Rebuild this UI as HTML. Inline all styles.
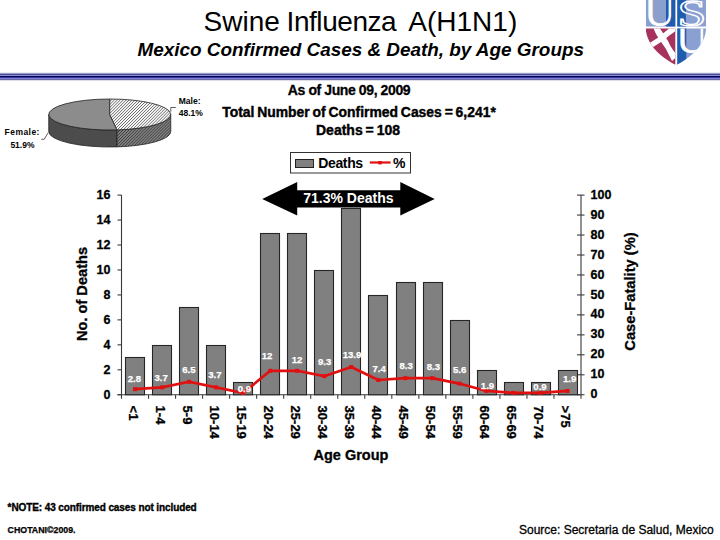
<!DOCTYPE html><html><head><meta charset="utf-8"><title>Swine Influenza A(H1N1)</title><style>
html,body{margin:0;padding:0;background:#fff;}svg{display:block;}text{font-family:"Liberation Sans",Arial,sans-serif;}
</style></head><body>
<svg width="720" height="540" viewBox="0 0 720 540">
<defs><pattern id="hatch" width="2.1" height="2.1" patternUnits="userSpaceOnUse" patternTransform="rotate(45)"><rect width="2.1" height="2.1" fill="#fff"/><rect width="0.75" height="2.1" fill="#6a6a6a"/></pattern><pattern id="hatch2" width="2.1" height="2.1" patternUnits="userSpaceOnUse" patternTransform="rotate(45)"><rect width="2.1" height="2.1" fill="#8e8e8e"/><rect width="0.9" height="2.1" fill="#3a3a3a"/></pattern><linearGradient id="rule" x1="0" y1="0" x2="0" y2="1"><stop offset="0" stop-color="#b8b8e0"/><stop offset="0.15" stop-color="#5c5cb0"/><stop offset="0.35" stop-color="#8a8ae0"/><stop offset="0.55" stop-color="#000058"/><stop offset="0.75" stop-color="#7070c8"/><stop offset="1" stop-color="#b0b0e0"/></linearGradient></defs>
<text y="30.7" font-size="28" fill="#000"><tspan x="203.6">Swine</tspan> <tspan x="286.6" letter-spacing="-0.45">Influenza</tspan> <tspan x="408.3">A(H1N1)</tspan></text>
<text x="137.5" y="56.4" font-size="18.9" font-weight="bold" font-style="italic" fill="#000">Mexico Confirmed Cases &amp; Death, by Age Groups</text>
<rect x="0" y="72" width="720" height="1" fill="#ececf4"/>
<rect x="0" y="73" width="720" height="1" fill="#9a9ac6"/>
<rect x="0" y="74" width="720" height="1" fill="#4c4c94"/>
<rect x="0" y="75" width="720" height="1" fill="#8c8ce0"/>
<rect x="0" y="76" width="720" height="1" fill="#04044e"/>
<rect x="0" y="77" width="720" height="1" fill="#3a3aa0"/>
<rect x="0" y="78" width="720" height="1" fill="#8282d2"/>
<rect x="0" y="79" width="720" height="1" fill="#6a6aa8"/>
<rect x="0" y="80" width="720" height="1" fill="#dcdcea"/>
<defs><clipPath id="shc"><path d="M645.8,-2 H706 V29 C705,46 690,58 676,65 C662,58 647,46 645.8,29 Z"/></clipPath><clipPath id="qtl"><rect x="645" y="-2" width="30.3" height="28.5"/></clipPath><clipPath id="qtr"><rect x="677.3" y="-2" width="30" height="28.5"/></clipPath><clipPath id="qbr"><rect x="677.3" y="28.5" width="30" height="40"/></clipPath></defs>
<g clip-path="url(#shc)"><rect x="640" y="-2" width="70" height="70" fill="#ffffff"/><rect x="645.8" y="-2" width="29.5" height="28.5" fill="#8a9fcc"/><rect x="666" y="-2" width="9.3" height="28.5" fill="#1f5cae"/><rect x="677.3" y="-2" width="29" height="28.5" fill="#8a9fd2"/><rect x="677.3" y="-2" width="8.6" height="28.5" fill="#1f5cae"/><rect x="645.8" y="28.5" width="29.5" height="40" fill="#a8325e"/><rect x="677.3" y="28.5" width="29" height="40" fill="#8a9fd2"/><rect x="677.3" y="28.5" width="9" height="40" fill="#1f5cae"/><path d="M653.5,28.5 L660,28.5 L663,33 L665.5,37 L668,41 L670.5,46 L673,50 L675.3,53 L675.3,58 L672,61 L669,55 L666,49 L662.5,44 L659,39 L656,34 Z" fill="#ffffff"/><path d="M669,28.5 L675,28.5 L675,31.5 L670,35 L665,39 L659.5,43 L654,46.5 L650.5,48 L648,44 L652,41.5 L657.5,38 L663,33.5 Z" fill="#ffffff"/><g clip-path="url(#qtl)"><text transform="translate(643.7,26) scale(0.917,1)" style="font-family:'Liberation Serif',serif;font-size:48px" fill="#fff">U</text></g><g clip-path="url(#qtr)"><text transform="translate(677.5,25.7) scale(1.39,1)" style="font-family:'Liberation Serif',serif;font-size:37.3px" fill="none" stroke="#fff" stroke-width="1.3">S</text></g><g clip-path="url(#qbr)"><text transform="translate(675.7,52.5) scale(0.917,1)" style="font-family:'Liberation Serif',serif;font-size:48px" fill="#fff">U</text></g></g>
<text x="349" y="94.8" font-size="14" font-weight="bold" text-anchor="middle" stroke="#000" stroke-width="0.3" letter-spacing="-0.4">As of June 09, 2009</text>
<text x="359" y="116.9" font-size="13.9" font-weight="bold" text-anchor="middle" stroke="#000" stroke-width="0.4" word-spacing="-1">Total Number of Confirmed Cases = 6,241*</text>
<text x="358" y="134.6" font-size="14" font-weight="bold" text-anchor="middle" stroke="#000" stroke-width="0.4" word-spacing="-1">Deaths = 108</text>
<path d="M48.75,114.5 A61,15.5 0 0 0 117.01,129.89 V146.89 A61,15.5 0 0 1 48.75,131.5 Z" fill="#4c4c4c" stroke="#222" stroke-width="0.8"/>
<path d="M117.01,129.89 A61,15.5 0 0 0 170.75,114.5 V131.5 A61,15.5 0 0 1 117.01,146.89 Z" fill="url(#hatch2)" stroke="#222" stroke-width="0.8"/>
<path d="M109.75,114.5 L109.75,99.0 A61,15.5 0 1 0 117.01,129.89 Z" fill="#8c8c8c" stroke="#222" stroke-width="0.8"/>
<path d="M109.75,114.5 L109.75,99.0 A61,15.5 0 0 1 117.01,129.89 Z" fill="url(#hatch)" stroke="#222" stroke-width="0.8"/>
<polyline points="170.8,111.7 170.8,107.5 175.8,107.5" fill="none" stroke="#333" stroke-width="0.8"/>
<polyline points="41.25,139.3 44.2,139.3 48.3,132.5" fill="none" stroke="#333" stroke-width="0.8"/>
<text x="178.75" y="103.75" font-size="8.5" font-weight="bold">Male:</text>
<text x="178.75" y="115.7" font-size="8.5" font-weight="bold">48.1%</text>
<text x="4.6" y="135.4" font-size="8.5" font-weight="bold" letter-spacing="0.45">Female:</text>
<text x="10.4" y="147.5" font-size="8.5" font-weight="bold">51.9%</text>
<rect x="290.5" y="152.5" width="120" height="20.5" fill="#fff" stroke="#333" stroke-width="1"/>
<rect x="295.5" y="159.5" width="18" height="8" fill="#808080" stroke="#222" stroke-width="1"/>
<text x="318.2" y="167.6" font-size="14" font-weight="bold" letter-spacing="-0.35">Deaths</text>
<line x1="369.8" y1="162.5" x2="390.6" y2="162.5" stroke="#e01010" stroke-width="2.2"/>
<rect x="378.3" y="161" width="3.4" height="3.4" fill="#e01010"/>
<text x="393" y="167.5" font-size="14" font-weight="bold">%</text>
<g stroke="#3a3a3a" stroke-width="1.1" fill="none">
<line x1="121.5" y1="195" x2="121.5" y2="394.75"/>
<line x1="117.5" y1="394.75" x2="581.01" y2="394.75"/>
<line x1="117.5" y1="394.75" x2="121.5" y2="394.75"/>
<line x1="117.5" y1="369.79" x2="121.5" y2="369.79"/>
<line x1="117.5" y1="344.84" x2="121.5" y2="344.84"/>
<line x1="117.5" y1="319.88" x2="121.5" y2="319.88"/>
<line x1="117.5" y1="294.93" x2="121.5" y2="294.93"/>
<line x1="117.5" y1="269.97" x2="121.5" y2="269.97"/>
<line x1="117.5" y1="245.01" x2="121.5" y2="245.01"/>
<line x1="117.5" y1="220.06" x2="121.5" y2="220.06"/>
<line x1="117.5" y1="195.10" x2="121.5" y2="195.10"/>
<line x1="581.01" y1="195" x2="581.01" y2="394.75"/>
<line x1="577.01" y1="394.75" x2="584.51" y2="394.75"/>
<line x1="577.01" y1="374.79" x2="584.51" y2="374.79"/>
<line x1="577.01" y1="354.82" x2="584.51" y2="354.82"/>
<line x1="577.01" y1="334.86" x2="584.51" y2="334.86"/>
<line x1="577.01" y1="314.89" x2="584.51" y2="314.89"/>
<line x1="577.01" y1="294.93" x2="584.51" y2="294.93"/>
<line x1="577.01" y1="274.96" x2="584.51" y2="274.96"/>
<line x1="577.01" y1="255.00" x2="584.51" y2="255.00"/>
<line x1="577.01" y1="235.03" x2="584.51" y2="235.03"/>
<line x1="577.01" y1="215.06" x2="584.51" y2="215.06"/>
<line x1="577.01" y1="195.10" x2="584.51" y2="195.10"/>
<line x1="121.50" y1="394.75" x2="121.50" y2="398.75"/>
<line x1="148.53" y1="394.75" x2="148.53" y2="398.75"/>
<line x1="175.56" y1="394.75" x2="175.56" y2="398.75"/>
<line x1="202.59" y1="394.75" x2="202.59" y2="398.75"/>
<line x1="229.62" y1="394.75" x2="229.62" y2="398.75"/>
<line x1="256.65" y1="394.75" x2="256.65" y2="398.75"/>
<line x1="283.68" y1="394.75" x2="283.68" y2="398.75"/>
<line x1="310.71" y1="394.75" x2="310.71" y2="398.75"/>
<line x1="337.74" y1="394.75" x2="337.74" y2="398.75"/>
<line x1="364.77" y1="394.75" x2="364.77" y2="398.75"/>
<line x1="391.80" y1="394.75" x2="391.80" y2="398.75"/>
<line x1="418.83" y1="394.75" x2="418.83" y2="398.75"/>
<line x1="445.86" y1="394.75" x2="445.86" y2="398.75"/>
<line x1="472.89" y1="394.75" x2="472.89" y2="398.75"/>
<line x1="499.92" y1="394.75" x2="499.92" y2="398.75"/>
<line x1="526.95" y1="394.75" x2="526.95" y2="398.75"/>
<line x1="553.98" y1="394.75" x2="553.98" y2="398.75"/>
<line x1="581.01" y1="394.75" x2="581.01" y2="398.75"/>
</g>
<rect x="125.50" y="357.50" width="19" height="37.25" fill="#808080" stroke="#262626" stroke-width="1.1"/>
<rect x="152.50" y="345.50" width="19" height="49.25" fill="#808080" stroke="#262626" stroke-width="1.1"/>
<rect x="179.50" y="307.50" width="19" height="87.25" fill="#808080" stroke="#262626" stroke-width="1.1"/>
<rect x="206.50" y="345.50" width="19" height="49.25" fill="#808080" stroke="#262626" stroke-width="1.1"/>
<rect x="233.50" y="382.50" width="19" height="12.25" fill="#808080" stroke="#262626" stroke-width="1.1"/>
<rect x="260.50" y="233.50" width="19" height="161.25" fill="#808080" stroke="#262626" stroke-width="1.1"/>
<rect x="287.50" y="233.50" width="19" height="161.25" fill="#808080" stroke="#262626" stroke-width="1.1"/>
<rect x="314.50" y="270.50" width="19" height="124.25" fill="#808080" stroke="#262626" stroke-width="1.1"/>
<rect x="341.50" y="208.50" width="19" height="186.25" fill="#808080" stroke="#262626" stroke-width="1.1"/>
<rect x="368.50" y="295.50" width="19" height="99.25" fill="#808080" stroke="#262626" stroke-width="1.1"/>
<rect x="396.50" y="282.50" width="19" height="112.25" fill="#808080" stroke="#262626" stroke-width="1.1"/>
<rect x="423.50" y="282.50" width="19" height="112.25" fill="#808080" stroke="#262626" stroke-width="1.1"/>
<rect x="450.50" y="320.50" width="19" height="74.25" fill="#808080" stroke="#262626" stroke-width="1.1"/>
<rect x="477.50" y="370.50" width="19" height="24.25" fill="#808080" stroke="#262626" stroke-width="1.1"/>
<rect x="504.50" y="382.50" width="19" height="12.25" fill="#808080" stroke="#262626" stroke-width="1.1"/>
<rect x="531.50" y="382.50" width="19" height="12.25" fill="#808080" stroke="#262626" stroke-width="1.1"/>
<rect x="558.50" y="370.50" width="19" height="24.25" fill="#808080" stroke="#262626" stroke-width="1.1"/>
<path d="M135.01,389.16 C135.01,389.16 162.05,387.36 162.05,387.36 C162.05,387.36 189.07,381.77 189.07,381.77 C189.07,381.77 216.11,387.36 216.11,387.36 C216.11,387.36 243.13,392.95 243.13,392.95 C243.13,392.95 270.17,370.79 270.17,370.79 C270.17,370.79 297.19,370.79 297.19,370.79 C297.19,370.79 324.23,376.18 324.23,376.18 C324.23,376.18 351.25,367.00 351.25,367.00 C351.25,367.00 378.29,379.98 378.29,379.98 C378.29,379.98 405.31,378.18 405.31,378.18 C405.31,378.18 432.35,378.18 432.35,378.18 C432.35,378.18 459.38,383.57 459.38,383.57 C459.38,383.57 486.41,390.96 486.41,390.96 C486.41,390.96 513.43,392.95 513.43,392.95 C513.43,392.95 540.47,392.95 540.47,392.95 C540.47,392.95 567.50,390.96 567.50,390.96" fill="none" stroke="#e01010" stroke-width="2.7" stroke-linejoin="round"/>
<rect x="133.01" y="387.16" width="4" height="4" fill="#e01010"/>
<rect x="160.05" y="385.36" width="4" height="4" fill="#e01010"/>
<rect x="187.07" y="379.77" width="4" height="4" fill="#e01010"/>
<rect x="214.11" y="385.36" width="4" height="4" fill="#e01010"/>
<rect x="241.13" y="390.95" width="4" height="4" fill="#e01010"/>
<rect x="268.17" y="368.79" width="4" height="4" fill="#e01010"/>
<rect x="295.19" y="368.79" width="4" height="4" fill="#e01010"/>
<rect x="322.23" y="374.18" width="4" height="4" fill="#e01010"/>
<rect x="349.25" y="365.00" width="4" height="4" fill="#e01010"/>
<rect x="376.29" y="377.98" width="4" height="4" fill="#e01010"/>
<rect x="403.31" y="376.18" width="4" height="4" fill="#e01010"/>
<rect x="430.35" y="376.18" width="4" height="4" fill="#e01010"/>
<rect x="457.38" y="381.57" width="4" height="4" fill="#e01010"/>
<rect x="484.41" y="388.96" width="4" height="4" fill="#e01010"/>
<rect x="511.43" y="390.95" width="4" height="4" fill="#e01010"/>
<rect x="538.47" y="390.95" width="4" height="4" fill="#e01010"/>
<rect x="565.50" y="388.96" width="4" height="4" fill="#e01010"/>
<text x="134.4" y="381.85" font-size="9.6" font-weight="bold" fill="#fff" stroke="#fff" stroke-width="0.25" text-anchor="middle">2.8</text>
<text x="161.1" y="380.55" font-size="9.6" font-weight="bold" fill="#fff" stroke="#fff" stroke-width="0.25" text-anchor="middle">3.7</text>
<text x="188.9" y="373.45" font-size="9.6" font-weight="bold" fill="#fff" stroke="#fff" stroke-width="0.25" text-anchor="middle">6.5</text>
<text x="214.9" y="378.35" font-size="9.6" font-weight="bold" fill="#fff" stroke="#fff" stroke-width="0.25" text-anchor="middle">3.7</text>
<text x="244.4" y="391.65" font-size="9.6" font-weight="bold" fill="#fff" stroke="#fff" stroke-width="0.25" text-anchor="middle">0.9</text>
<text x="267" y="359.45" font-size="9.6" font-weight="bold" fill="#fff" stroke="#fff" stroke-width="0.25" text-anchor="middle">12</text>
<text x="297" y="363.45" font-size="9.6" font-weight="bold" fill="#fff" stroke="#fff" stroke-width="0.25" text-anchor="middle">12</text>
<text x="324.6" y="365.05" font-size="9.6" font-weight="bold" fill="#fff" stroke="#fff" stroke-width="0.25" text-anchor="middle">9.3</text>
<text x="352" y="357.95" font-size="9.6" font-weight="bold" fill="#fff" stroke="#fff" stroke-width="0.25" text-anchor="middle">13.9</text>
<text x="379.2" y="371.75" font-size="9.6" font-weight="bold" fill="#fff" stroke="#fff" stroke-width="0.25" text-anchor="middle">7.4</text>
<text x="406.1" y="369.05" font-size="9.6" font-weight="bold" fill="#fff" stroke="#fff" stroke-width="0.25" text-anchor="middle">8.3</text>
<text x="433.3" y="369.55" font-size="9.6" font-weight="bold" fill="#fff" stroke="#fff" stroke-width="0.25" text-anchor="middle">8.3</text>
<text x="459.7" y="372.85" font-size="9.6" font-weight="bold" fill="#fff" stroke="#fff" stroke-width="0.25" text-anchor="middle">5.6</text>
<text x="487.5" y="388.75" font-size="9.6" font-weight="bold" fill="#fff" stroke="#fff" stroke-width="0.25" text-anchor="middle">1.9</text>
<text x="540" y="390.15" font-size="9.6" font-weight="bold" fill="#fff" stroke="#fff" stroke-width="0.25" text-anchor="middle">0.9</text>
<text x="569.7" y="382.15" font-size="9.6" font-weight="bold" fill="#fff" stroke="#fff" stroke-width="0.25" text-anchor="middle">1.9</text>
<text x="110.5" y="398.65" font-size="12.5" font-weight="bold" text-anchor="end" stroke="#000" stroke-width="0.3">0</text>
<text x="110.5" y="373.69" font-size="12.5" font-weight="bold" text-anchor="end" stroke="#000" stroke-width="0.3">2</text>
<text x="110.5" y="348.74" font-size="12.5" font-weight="bold" text-anchor="end" stroke="#000" stroke-width="0.3">4</text>
<text x="110.5" y="323.78" font-size="12.5" font-weight="bold" text-anchor="end" stroke="#000" stroke-width="0.3">6</text>
<text x="110.5" y="298.83" font-size="12.5" font-weight="bold" text-anchor="end" stroke="#000" stroke-width="0.3">8</text>
<text x="110.5" y="273.87" font-size="12.5" font-weight="bold" text-anchor="end" stroke="#000" stroke-width="0.3">10</text>
<text x="110.5" y="248.91" font-size="12.5" font-weight="bold" text-anchor="end" stroke="#000" stroke-width="0.3">12</text>
<text x="110.5" y="223.96" font-size="12.5" font-weight="bold" text-anchor="end" stroke="#000" stroke-width="0.3">14</text>
<text x="110.5" y="199.00" font-size="12.5" font-weight="bold" text-anchor="end" stroke="#000" stroke-width="0.3">16</text>
<text x="590.5" y="398.35" font-size="12.5" font-weight="bold" stroke="#000" stroke-width="0.3">0</text>
<text x="590.5" y="378.39" font-size="12.5" font-weight="bold" stroke="#000" stroke-width="0.3">10</text>
<text x="590.5" y="358.42" font-size="12.5" font-weight="bold" stroke="#000" stroke-width="0.3">20</text>
<text x="590.5" y="338.46" font-size="12.5" font-weight="bold" stroke="#000" stroke-width="0.3">30</text>
<text x="590.5" y="318.49" font-size="12.5" font-weight="bold" stroke="#000" stroke-width="0.3">40</text>
<text x="590.5" y="298.53" font-size="12.5" font-weight="bold" stroke="#000" stroke-width="0.3">50</text>
<text x="590.5" y="278.56" font-size="12.5" font-weight="bold" stroke="#000" stroke-width="0.3">60</text>
<text x="590.5" y="258.60" font-size="12.5" font-weight="bold" stroke="#000" stroke-width="0.3">70</text>
<text x="590.5" y="238.63" font-size="12.5" font-weight="bold" stroke="#000" stroke-width="0.3">80</text>
<text x="590.5" y="218.66" font-size="12.5" font-weight="bold" stroke="#000" stroke-width="0.3">90</text>
<text x="590.5" y="198.70" font-size="12.5" font-weight="bold" stroke="#000" stroke-width="0.3">100</text>
<text transform="translate(128.61,405.6) rotate(90)" font-size="13" font-weight="bold" stroke="#000" stroke-width="0.3">&lt;1</text>
<text transform="translate(155.65,405.6) rotate(90)" font-size="13" font-weight="bold" stroke="#000" stroke-width="0.3">1-4</text>
<text transform="translate(182.67,405.6) rotate(90)" font-size="13" font-weight="bold" stroke="#000" stroke-width="0.3">5-9</text>
<text transform="translate(209.71,405.6) rotate(90)" font-size="13" font-weight="bold" stroke="#000" stroke-width="0.3">10-14</text>
<text transform="translate(236.73,405.6) rotate(90)" font-size="13" font-weight="bold" stroke="#000" stroke-width="0.3">15-19</text>
<text transform="translate(263.77,405.6) rotate(90)" font-size="13" font-weight="bold" stroke="#000" stroke-width="0.3">20-24</text>
<text transform="translate(290.80,405.6) rotate(90)" font-size="13" font-weight="bold" stroke="#000" stroke-width="0.3">25-29</text>
<text transform="translate(317.83,405.6) rotate(90)" font-size="13" font-weight="bold" stroke="#000" stroke-width="0.3">30-34</text>
<text transform="translate(344.86,405.6) rotate(90)" font-size="13" font-weight="bold" stroke="#000" stroke-width="0.3">35-39</text>
<text transform="translate(371.89,405.6) rotate(90)" font-size="13" font-weight="bold" stroke="#000" stroke-width="0.3">40-44</text>
<text transform="translate(398.92,405.6) rotate(90)" font-size="13" font-weight="bold" stroke="#000" stroke-width="0.3">45-49</text>
<text transform="translate(425.95,405.6) rotate(90)" font-size="13" font-weight="bold" stroke="#000" stroke-width="0.3">50-54</text>
<text transform="translate(452.98,405.6) rotate(90)" font-size="13" font-weight="bold" stroke="#000" stroke-width="0.3">55-59</text>
<text transform="translate(480.01,405.6) rotate(90)" font-size="13" font-weight="bold" stroke="#000" stroke-width="0.3">60-64</text>
<text transform="translate(507.03,405.6) rotate(90)" font-size="13" font-weight="bold" stroke="#000" stroke-width="0.3">65-69</text>
<text transform="translate(534.07,405.6) rotate(90)" font-size="13" font-weight="bold" stroke="#000" stroke-width="0.3">70-74</text>
<text transform="translate(561.10,405.6) rotate(90)" font-size="13" font-weight="bold" stroke="#000" stroke-width="0.3">&gt;75</text>
<text transform="translate(86.6,294) rotate(-90)" font-size="14.6" font-weight="bold" text-anchor="middle" stroke="#000" stroke-width="0.3">No. of Deaths</text>
<text transform="translate(634.6,291.5) rotate(-90)" font-size="14.7" font-weight="bold" text-anchor="middle" stroke="#000" stroke-width="0.3">Case-Fatality (%)</text>
<text x="351" y="459.8" font-size="14.5" font-weight="bold" text-anchor="middle" stroke="#000" stroke-width="0.3">Age Group</text>
<path d="M262.2,198.9 L297.2,182 V190.3 H400.3 V182 L434.7,198.9 L400.3,215.6 V207.4 H297.2 V215.6 Z" fill="#000"/>
<text x="348.4" y="202.5" font-size="14" font-weight="bold" fill="#fff" text-anchor="middle">71.3% Deaths</text>
<text x="7.6" y="511.3" font-size="10" font-weight="bold" stroke="#000" stroke-width="0.35" letter-spacing="-0.1">*NOTE: 43 confirmed cases not included</text>
<text x="7.6" y="533.2" font-size="8.8" font-weight="bold" stroke="#000" stroke-width="0.25">CHOTANI©2009.</text>
<text x="519" y="533.6" font-size="12" stroke="#000" stroke-width="0.3">Source: Secretaria de Salud, Mexico</text>
</svg></body></html>
